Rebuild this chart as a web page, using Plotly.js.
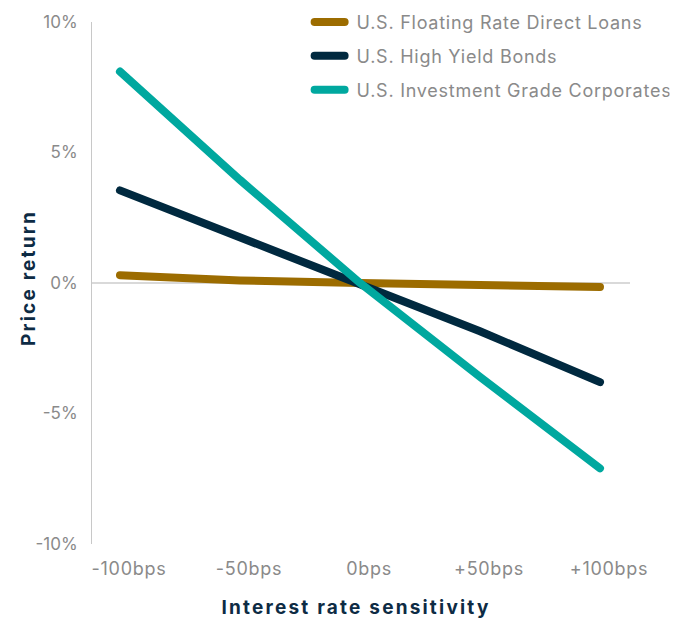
<!DOCTYPE html>
<html>
<head>
<meta charset="utf-8">
<script src="https://cdn.plot.ly/plotly-3.0.1.min.js"></script>
<style>
body{margin:0;background:#fff;}
.scatterlayer path.js-line, .legend path.js-line{stroke-linecap:round;}
.legendtext{letter-spacing:0.75px;transform:translateX(7px);}
.xtick text{letter-spacing:0.7px;}
.g-xtitle text, .g-ytitle text{letter-spacing:2.2px;}
.g-xtitle{transform:translateX(-5px);}
.g-ytitle{transform:translate(10px,-5px);}
</style>
</head>
<body>
<div id="chart" style="width:673px;height:621px;"></div>
<script>
const categories = ["-100bps", "-50bps", "0bps", "+50bps", "+100bps"];
const seriesNames = ["U.S. Floating Rate Direct Loans", "U.S. High Yield Bonds", "U.S. Investment Grade Corporates"];
const floatingRate = [0.3, 0.1, 0.0, -0.05, -0.15];
const highYield = [3.55, 1.75, 0.0, -1.85, -3.8];
const investmentGrade = [8.1, 3.95, 0.0, -3.6, -7.1];
const yTickVals = [-10, -5, 0, 5, 10];
const yTickText = ["-10%", "-5%", "0%", "5%", "10%"];
const colors = ["#9c6c00", "#00293f", "#00a89f"];

const values = [floatingRate, highYield, investmentGrade];
const traces = values.map((v, i) => ({
  type: "scatter",
  mode: "lines",
  x: categories,
  y: v,
  name: seriesNames[i],
  legendgroup: "g" + i,
  line: {color: colors[i], width: 8},
  hoverinfo: "skip"
}));

const layout = {
  width: 673, height: 621,
  margin: {l: 92, r: 43, t: 22, b: 77, autoexpand: false},
  paper_bgcolor: "#fff", plot_bgcolor: "#fff",
  font: {family: "Inter, 'Noto Sans', sans-serif", color: "#8a8a8a", size: 16},
  showlegend: true,
  legend: {
    x: 0.4045, xanchor: "left", y: 1.035, yanchor: "top",
    font: {size: 18, color: "#8a8a8a"},
    tracegroupgap: 7.5,
    traceorder: "grouped",
    bgcolor: "rgba(0,0,0,0)"
  },
  xaxis: {
    type: "category",
    range: [-0.233, 4.25],
    showgrid: false, zeroline: false, showline: false,
    ticks: "", ticklen: 0,
    ticklabelstandoff: 12,
    ticklabelshift: 9,
    tickfont: {size: 18, color: "#8a8a8a"},
    title: {text: "Interest rate sensitivity", font: {size: 19, color: "#0d2b44", weight: "bold"}, standoff: 22},
    fixedrange: true
  },
  yaxis: {
    range: [-10, 10],
    tickvals: yTickVals, ticktext: yTickText,
    showgrid: false,
    zeroline: true, zerolinecolor: "#d9d9d9", zerolinewidth: 1.5,
    showline: true, linecolor: "#c8c8c8", linewidth: 1,
    ticks: "", ticklen: 0,
    ticklabelstandoff: 10,
    tickfont: {size: 17, color: "#8a8a8a"},
    title: {text: "Price return", font: {size: 19, color: "#0d2b44", weight: "bold"}, standoff: 4},
    fixedrange: true
  }
};

Plotly.newPlot("chart", traces, layout, {displayModeBar: false, staticPlot: true});
</script>
</body>
</html>
